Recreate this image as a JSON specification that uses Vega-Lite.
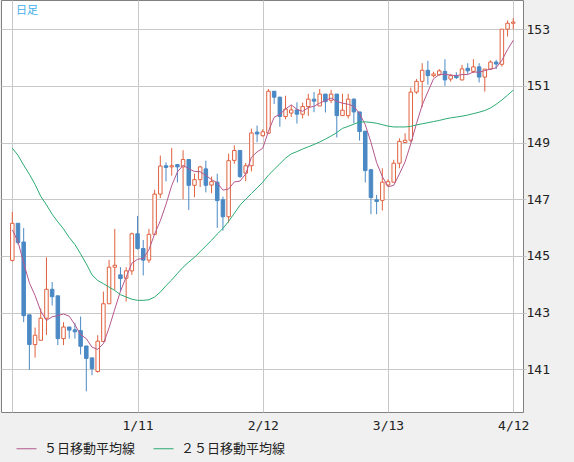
{
  "$schema": "https://vega.github.io/schema/vega-lite/v6.json",
  "width": 522,
  "height": 412,
  "autosize": {"type": "none"},
  "padding": {"left": 1, "top": 0, "right": 51, "bottom": 50},
  "background": "#f0f0f0",
  "view": {"fill": "#ffffff", "stroke": "#808080", "strokeWidth": 1},
  "title": {"text": "日足", "anchor": "start", "frame": "group", "offset": -16, "dx": 15, "color": "#3daee9", "font": "Noto Sans CJK JP", "fontSize": 11, "fontWeight": "normal"},
  "data": {"values": [
    {"i":0,"open":144.84,"high":146.55,"low":144.80,"close":146.15,"ma5":145.92,"ma25":148.80},
    {"i":1,"open":146.15,"high":146.15,"low":145.40,"close":145.47,"ma5":145.50,"ma25":148.55},
    {"i":2,"open":145.49,"high":145.98,"low":142.66,"close":142.89,"ma5":144.75,"ma25":148.20},
    {"i":3,"open":142.92,"high":142.92,"low":140.98,"close":141.87,"ma5":144.05,"ma25":147.88},
    {"i":4,"open":141.87,"high":142.47,"low":141.41,"close":142.20,"ma5":143.60,"ma25":147.52},
    {"i":5,"open":142.02,"high":143.15,"low":142.02,"close":142.80,"ma5":143.05,"ma25":147.10},
    {"i":6,"open":142.80,"high":144.95,"low":142.21,"close":143.82,"ma5":142.72,"ma25":146.80},
    {"i":7,"open":143.82,"high":144.08,"low":143.25,"close":143.56,"ma5":142.85,"ma25":146.47},
    {"i":8,"open":143.59,"high":143.59,"low":141.85,"close":142.08,"ma5":142.89,"ma25":146.20},
    {"i":9,"open":142.08,"high":142.66,"low":141.85,"close":142.49,"ma5":142.95,"ma25":145.95},
    {"i":10,"open":142.49,"high":142.49,"low":142.08,"close":142.38,"ma5":142.87,"ma25":145.65},
    {"i":11,"open":142.39,"high":142.64,"low":142.08,"close":142.32,"ma5":142.57,"ma25":145.40},
    {"i":12,"open":142.36,"high":142.86,"low":141.52,"close":141.81,"ma5":142.22,"ma25":145.07},
    {"i":13,"open":141.82,"high":141.82,"low":140.22,"close":141.38,"ma5":142.08,"ma25":144.72},
    {"i":14,"open":141.40,"high":141.40,"low":140.79,"close":141.02,"ma5":141.78,"ma25":144.33},
    {"i":15,"open":140.92,"high":142.20,"low":140.88,"close":141.99,"ma5":141.70,"ma25":144.13},
    {"i":16,"open":141.98,"high":143.74,"low":141.98,"close":143.31,"ma5":141.90,"ma25":144.02},
    {"i":17,"open":143.31,"high":144.86,"low":143.31,"close":144.60,"ma5":142.46,"ma25":143.90},
    {"i":18,"open":144.60,"high":145.95,"low":143.80,"close":144.67,"ma5":143.12,"ma25":143.78},
    {"i":19,"open":144.33,"high":144.60,"low":143.74,"close":144.20,"ma5":143.75,"ma25":143.63},
    {"i":20,"open":144.21,"high":144.60,"low":143.39,"close":144.47,"ma5":144.25,"ma25":143.55},
    {"i":21,"open":144.47,"high":145.82,"low":144.33,"close":145.78,"ma5":144.74,"ma25":143.47},
    {"i":22,"open":145.78,"high":146.41,"low":145.22,"close":145.26,"ma5":144.88,"ma25":143.43},
    {"i":23,"open":145.26,"high":145.56,"low":144.31,"close":144.85,"ma5":144.91,"ma25":143.43},
    {"i":24,"open":144.85,"high":145.95,"low":144.75,"close":145.76,"ma5":145.22,"ma25":143.45},
    {"i":25,"open":145.76,"high":147.33,"low":145.76,"close":147.18,"ma5":145.77,"ma25":143.55},
    {"i":26,"open":147.18,"high":148.54,"low":147.04,"close":148.17,"ma5":146.24,"ma25":143.72},
    {"i":27,"open":148.18,"high":148.30,"low":147.63,"close":148.12,"ma5":146.82,"ma25":143.95},
    {"i":28,"open":148.14,"high":148.81,"low":147.83,"close":148.18,"ma5":147.48,"ma25":144.15},
    {"i":29,"open":148.22,"high":148.24,"low":147.59,"close":148.14,"ma5":147.96,"ma25":144.38},
    {"i":30,"open":148.14,"high":148.73,"low":147.00,"close":148.40,"ma5":148.20,"ma25":144.60},
    {"i":31,"open":148.40,"high":148.40,"low":146.62,"close":147.49,"ma5":148.07,"ma25":144.78},
    {"i":32,"open":147.49,"high":147.90,"low":147.07,"close":147.69,"ma5":147.98,"ma25":144.95},
    {"i":33,"open":147.69,"high":148.18,"low":147.43,"close":148.14,"ma5":147.97,"ma25":145.15},
    {"i":34,"open":148.07,"high":148.36,"low":147.24,"close":147.49,"ma5":147.84,"ma25":145.35},
    {"i":35,"open":147.50,"high":147.80,"low":147.21,"close":147.62,"ma5":147.69,"ma25":145.55},
    {"i":36,"open":147.60,"high":147.90,"low":145.99,"close":146.95,"ma5":147.58,"ma25":145.77},
    {"i":37,"open":146.98,"high":147.09,"low":145.89,"close":146.38,"ma5":147.32,"ma25":145.97},
    {"i":38,"open":146.38,"high":148.61,"low":146.17,"close":148.36,"ma5":147.36,"ma25":146.22},
    {"i":39,"open":148.37,"high":148.90,"low":148.25,"close":148.72,"ma5":147.61,"ma25":146.50},
    {"i":40,"open":148.72,"high":148.72,"low":147.75,"close":147.80,"ma5":147.64,"ma25":146.79},
    {"i":41,"open":147.92,"high":148.28,"low":147.63,"close":148.18,"ma5":147.89,"ma25":147.00},
    {"i":42,"open":148.18,"high":149.49,"low":147.98,"close":149.34,"ma5":148.48,"ma25":147.20},
    {"i":43,"open":149.37,"high":149.60,"low":149.01,"close":149.30,"ma5":148.67,"ma25":147.40},
    {"i":44,"open":149.24,"high":149.47,"low":149.21,"close":149.38,"ma5":148.80,"ma25":147.60},
    {"i":45,"open":149.33,"high":150.89,"low":149.30,"close":150.81,"ma5":149.40,"ma25":147.85},
    {"i":46,"open":150.81,"high":150.81,"low":150.36,"close":150.60,"ma5":149.89,"ma25":148.05},
    {"i":47,"open":150.60,"high":150.62,"low":149.56,"close":149.92,"ma5":150.00,"ma25":148.25},
    {"i":48,"open":149.92,"high":150.65,"low":149.82,"close":150.18,"ma5":150.18,"ma25":148.45},
    {"i":49,"open":150.04,"high":150.32,"low":149.90,"close":150.15,"ma5":150.33,"ma25":148.60},
    {"i":50,"open":150.15,"high":150.42,"low":149.67,"close":150.00,"ma5":150.17,"ma25":148.68},
    {"i":51,"open":150.00,"high":150.41,"low":149.85,"close":150.27,"ma5":150.10,"ma25":148.77},
    {"i":52,"open":150.27,"high":150.72,"low":149.94,"close":150.53,"ma5":150.23,"ma25":148.85},
    {"i":53,"open":150.53,"high":150.78,"low":150.07,"close":150.46,"ma5":150.28,"ma25":148.93},
    {"i":54,"open":150.29,"high":150.89,"low":150.29,"close":150.71,"ma5":150.39,"ma25":149.02},
    {"i":55,"open":150.71,"high":150.71,"low":150.06,"close":150.44,"ma5":150.48,"ma25":149.12},
    {"i":56,"open":150.49,"high":150.86,"low":150.39,"close":150.71,"ma5":150.57,"ma25":149.23},
    {"i":57,"open":150.71,"high":150.71,"low":149.18,"close":149.95,"ma5":150.45,"ma25":149.35},
    {"i":58,"open":149.95,"high":150.72,"low":149.95,"close":150.14,"ma5":150.39,"ma25":149.50},
    {"i":59,"open":149.95,"high":150.72,"low":149.85,"close":150.53,"ma5":150.35,"ma25":149.57},
    {"i":60,"open":150.53,"high":150.56,"low":149.68,"close":150.08,"ma5":150.28,"ma25":149.65},
    {"i":61,"open":150.08,"high":150.08,"low":149.07,"close":149.39,"ma5":150.02,"ma25":149.72},
    {"i":62,"open":149.40,"high":149.40,"low":147.59,"close":148.01,"ma5":149.63,"ma25":149.73},
    {"i":63,"open":148.04,"high":148.07,"low":146.47,"close":147.06,"ma5":149.01,"ma25":149.71},
    {"i":64,"open":146.98,"high":147.15,"low":146.47,"close":146.92,"ma5":148.29,"ma25":149.68},
    {"i":65,"open":146.96,"high":148.09,"low":146.60,"close":147.60,"ma5":147.80,"ma25":149.63},
    {"i":66,"open":147.50,"high":147.70,"low":147.45,"close":147.62,"ma5":147.44,"ma25":149.58},
    {"i":67,"open":147.60,"high":148.39,"low":147.60,"close":148.27,"ma5":147.49,"ma25":149.55},
    {"i":68,"open":148.27,"high":149.15,"low":148.09,"close":149.04,"ma5":147.89,"ma25":149.55},
    {"i":69,"open":149.00,"high":149.33,"low":148.98,"close":149.08,"ma5":148.32,"ma25":149.55},
    {"i":70,"open":149.08,"high":150.94,"low":149.00,"close":150.78,"ma5":148.96,"ma25":149.57},
    {"i":71,"open":150.78,"high":151.24,"low":150.72,"close":151.16,"ma5":149.67,"ma25":149.62},
    {"i":72,"open":151.16,"high":151.80,"low":150.25,"close":151.55,"ma5":150.32,"ma25":149.66},
    {"i":73,"open":151.55,"high":151.88,"low":151.04,"close":151.36,"ma5":150.79,"ma25":149.70},
    {"i":74,"open":151.36,"high":151.50,"low":151.30,"close":151.42,"ma5":151.25,"ma25":149.74},
    {"i":75,"open":151.39,"high":151.59,"low":151.36,"close":151.53,"ma5":151.40,"ma25":149.78},
    {"i":76,"open":151.51,"high":151.94,"low":151.00,"close":151.21,"ma5":151.41,"ma25":149.83},
    {"i":77,"open":151.24,"high":151.42,"low":151.15,"close":151.36,"ma5":151.38,"ma25":149.87},
    {"i":78,"open":151.36,"high":151.48,"low":151.24,"close":151.29,"ma5":151.36,"ma25":149.90},
    {"i":79,"open":151.21,"high":151.74,"low":151.19,"close":151.60,"ma5":151.40,"ma25":149.93},
    {"i":80,"open":151.62,"high":151.80,"low":151.42,"close":151.53,"ma5":151.40,"ma25":149.97},
    {"i":81,"open":151.51,"high":151.94,"low":151.45,"close":151.67,"ma5":151.49,"ma25":150.02},
    {"i":82,"open":151.67,"high":151.80,"low":151.12,"close":151.31,"ma5":151.48,"ma25":150.07},
    {"i":83,"open":151.31,"high":151.59,"low":150.80,"close":151.59,"ma5":151.54,"ma25":150.13},
    {"i":84,"open":151.59,"high":151.90,"low":151.56,"close":151.84,"ma5":151.59,"ma25":150.22},
    {"i":85,"open":151.84,"high":151.92,"low":151.59,"close":151.77,"ma5":151.64,"ma25":150.35},
    {"i":86,"open":151.76,"high":153.00,"low":151.68,"close":153.00,"ma5":151.90,"ma25":150.50},
    {"i":87,"open":153.00,"high":153.31,"low":152.74,"close":153.21,"ma5":152.28,"ma25":150.67},
    {"i":88,"open":153.21,"high":153.39,"low":153.00,"close":153.25,"ma5":152.61,"ma25":150.85}
  ]},
  "layer": [
    {
      "mark": {"type": "rule", "strokeWidth": 1},
      "encoding": {
        "x": {"field": "i", "type": "quantitative", "title": null, "scale": {"domain": [-1.985, 89.71], "nice": false, "zero": false, "padding": 0},
              "axis": {"values": [0, 22, 44, 66, 88], "labelExpr": "datum.value == 22 ? '1/11' : datum.value == 44 ? '2/12' : datum.value == 66 ? '3/13' : datum.value == 88 ? '4/12' : ''"}},
        "y": {"field": "low", "type": "quantitative", "title": null, "scale": {"domain": [139.49, 154.03], "nice": false, "zero": false},
              "axis": {"orient": "right", "values": [141, 143, 145, 147, 149, 151, 153]}},
        "y2": {"field": "high"},
        "stroke": {"condition": {"test": "datum.close >= datum.open", "value": "#e0623f"}, "value": "#4a89c4"}
      }
    },
    {
      "mark": {"type": "bar", "size": 3.5, "strokeWidth": 1},
      "encoding": {
        "x": {"field": "i", "type": "quantitative", "title": null, "scale": {"domain": [-1.985, 89.71], "nice": false, "zero": false, "padding": 0},
              "axis": {"values": [0, 22, 44, 66, 88], "labelExpr": "datum.value == 22 ? '1/11' : datum.value == 44 ? '2/12' : datum.value == 66 ? '3/13' : datum.value == 88 ? '4/12' : ''"}},
        "y": {"field": "open", "type": "quantitative", "title": null, "scale": {"domain": [139.49, 154.03], "nice": false, "zero": false},
              "axis": {"orient": "right", "values": [141, 143, 145, 147, 149, 151, 153]}},
        "y2": {"field": "close"},
        "fill": {"condition": {"test": "datum.close >= datum.open", "value": "#ffffff"}, "value": "#4a89c4"},
        "stroke": {"condition": {"test": "datum.close >= datum.open", "value": "#e0623f"}, "value": "#4a89c4"}
      }
    },
    {
      "transform": [{"fold": ["ma5", "ma25"], "as": ["series", "val"]}],
      "mark": {"type": "line", "strokeWidth": 1},
      "encoding": {
        "x": {"field": "i", "type": "quantitative", "title": null, "scale": {"domain": [-1.985, 89.71], "nice": false, "zero": false, "padding": 0},
              "axis": {"values": [0, 22, 44, 66, 88], "labelExpr": "datum.value == 22 ? '1/11' : datum.value == 44 ? '2/12' : datum.value == 66 ? '3/13' : datum.value == 88 ? '4/12' : ''"}},
        "y": {"field": "val", "type": "quantitative", "title": null, "scale": {"domain": [139.49, 154.03], "nice": false, "zero": false},
              "axis": {"orient": "right", "values": [141, 143, 145, 147, 149, 151, 153]}},
        "color": {"field": "series", "type": "nominal",
                  "scale": {"domain": ["ma5", "ma25"], "range": ["#b5588e", "#2aab72"]},
                  "legend": {"orient": "none", "legendX": 15, "legendY": 438, "direction": "horizontal", "title": null,
                             "symbolType": "stroke", "symbolSize": 400, "symbolStrokeWidth": 1,
                             "labelFont": "Noto Sans CJK JP", "labelFontSize": 13, "labelColor": "#222222",
                             "labelOffset": 7, "columnPadding": 15, "labelLimit": 220, "padding": 0,
                             "labelExpr": "datum.value == 'ma5' ? '５日移動平均線' : '２５日移動平均線'"}}
      }
    }
  ],
  "config": {
    "axisX": {"grid": true, "gridColor": "#c8c8c8", "gridWidth": 1, "ticks": false, "domain": false,
              "labelFont": "DejaVu Sans Mono", "labelFontSize": 13, "labelColor": "#222222", "labelPadding": 7,
              "labelFlush": false, "labelOverlap": false},
    "axisY": {"grid": true, "gridColor": "#c8c8c8", "gridWidth": 1, "ticks": true, "tickSize": 3, "tickColor": "#c8c8c8",
              "domain": false, "labelFont": "DejaVu Sans Mono", "labelFontSize": 13, "labelColor": "#222222",
              "labelPadding": 0}
  }
}
